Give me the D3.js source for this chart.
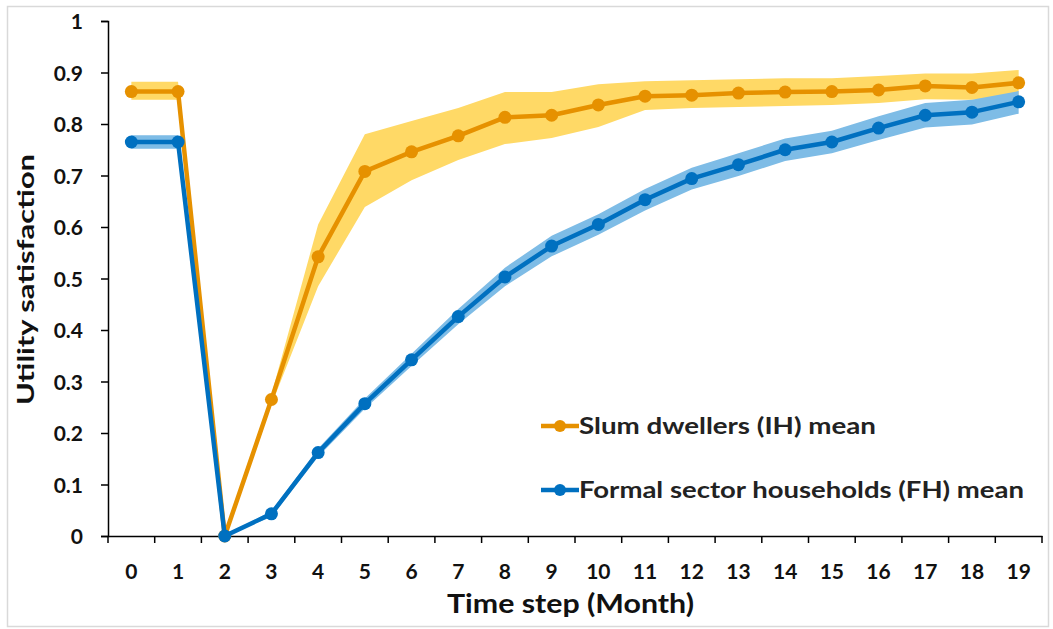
<!DOCTYPE html>
<html><head><meta charset="utf-8">
<script src="https://cdn.jsdelivr.net/npm/d3@7"></script>
<style>body{margin:0;background:#fff}svg{display:block}</style>
</head><body>
<svg id="chart" width="1053" height="629"></svg>
<script>
const months = [0,1,2,3,4,5,6,7,8,9,10,11,12,13,14,15,16,17,18,19];
const slumMean  = [0.863,0.863,0.0,0.265,0.542,0.708,0.746,0.777,0.813,0.817,0.837,0.854,0.856,0.860,0.862,0.863,0.866,0.874,0.871,0.880];
const slumUpper = [0.882,0.882,0.0,0.275,0.605,0.780,0.806,0.831,0.862,0.862,0.877,0.883,0.885,0.887,0.889,0.889,0.893,0.898,0.898,0.905];
const slumLower = [0.847,0.847,0.0,0.255,0.485,0.639,0.691,0.730,0.761,0.773,0.794,0.827,0.831,0.833,0.835,0.837,0.841,0.848,0.847,0.856];
const formalMean  = [0.765,0.765,0.0,0.043,0.162,0.257,0.342,0.426,0.503,0.563,0.605,0.653,0.694,0.721,0.750,0.765,0.792,0.817,0.823,0.843];
const formalUpper = [0.778,0.778,0.0,0.049,0.170,0.267,0.354,0.441,0.521,0.583,0.625,0.674,0.715,0.743,0.772,0.787,0.815,0.841,0.847,0.864];
const formalLower = [0.752,0.752,0.0,0.037,0.154,0.247,0.330,0.411,0.485,0.543,0.585,0.632,0.673,0.699,0.728,0.743,0.769,0.793,0.799,0.820];
const yTicks = [0,0.1,0.2,0.3,0.4,0.5,0.6,0.7,0.8,0.9,1];
const yTickLabels = ["0","0.1","0.2","0.3","0.4","0.5","0.6","0.7","0.8","0.9","1"];
const seriesNames = ["Slum dwellers (IH) mean","Formal sector households (FH) mean"];

(function(){
const svg = d3.select("#chart");
const FONT = "Lato, 'Open Sans', sans-serif";
const pLeft = 108, pRight = 1042, pTop = 21, pBottom = 536;

svg.append("rect").attr("x",7.5).attr("y",6.5).attr("width",1041).attr("height",620)
  .attr("fill","#fff").attr("stroke","#d9d9d9").attr("stroke-width",1.5);

const x = d3.scaleBand().domain(months).range([pLeft,pRight]);
const y = d3.scaleLinear().domain([0,1]).range([pBottom,pTop]);
const cx = d => x(d) + x.bandwidth()/2;

// y axis
const yAxis = svg.append("g").attr("transform",`translate(${pLeft},0)`)
  .call(d3.axisLeft(y).tickValues(yTicks).tickFormat((d,i)=>yTickLabels[i]).tickSizeOuter(0).tickSize(7));
yAxis.select(".domain").attr("stroke","#000").attr("stroke-width",1.5);
yAxis.selectAll(".tick line").attr("stroke","#000").attr("stroke-width",1.5);
yAxis.selectAll("text").attr("font-family",FONT).attr("font-weight","bold").attr("font-size",21).attr("fill","#111").attr("x",-25).attr("dy","0.36em");

// x axis
const xAxis = svg.append("g").attr("transform",`translate(0,${pBottom})`)
  .call(d3.axisBottom(x).tickSize(0).tickSizeOuter(0));
xAxis.select(".domain").attr("stroke","#000").attr("stroke-width",1.5);
xAxis.selectAll("text").attr("font-family",FONT).attr("font-weight","bold").attr("font-size",21).attr("fill","#111").attr("y",43).attr("dy",0);
const bounds = months.map(m => x(m)).concat([pRight]);
xAxis.selectAll("line.bnd").data(bounds).enter().append("line").attr("class","bnd")
  .attr("x1",d=>d).attr("x2",d=>d).attr("y1",0).attr("y2",7).attr("stroke","#000").attr("stroke-width",1.5);

// titles
svg.append("text").attr("x",447).attr("y",613)
  .attr("font-family",FONT).attr("font-weight","bold").attr("font-size",27).attr("fill","#111")
  .attr("textLength",247).attr("lengthAdjust","spacingAndGlyphs").text("Time step (Month)");
svg.append("text").attr("transform","translate(34,405) rotate(-90)")
  .attr("font-family",FONT).attr("font-weight","bold").attr("font-size",23).attr("fill","#111")
  .attr("textLength",251).attr("lengthAdjust","spacingAndGlyphs").text("Utility satisfaction");

const series = [
  {mean: slumMean, up: slumUpper, lo: slumLower, line:"#E69100", band:"#FFD966"},
  {mean: formalMean, up: formalUpper, lo: formalLower, line:"#0070C0", band:"#7EBCE6"}
];
const area = s => d3.area().x((d,i)=>cx(months[i])).y0((d,i)=>y(s.lo[i])).y1((d,i)=>y(s.up[i]));
const line = d3.line().x((d,i)=>cx(months[i])).y(d=>y(d));

series.forEach(s=>{
  svg.append("path").datum(s.mean).attr("d",area(s)).attr("fill",s.band);
});
series.forEach(s=>{
  svg.append("path").datum(s.mean).attr("d",line).attr("fill","none").attr("stroke",s.line).attr("stroke-width",4.5).attr("stroke-linejoin","round");
  svg.append("g").selectAll("circle").data(s.mean).enter().append("circle")
    .attr("cx",(d,i)=>cx(months[i])).attr("cy",d=>y(d)).attr("r",6.5).attr("fill",s.line);
});

// legend
const legY = [426,490];
const legW = [297,445];
series.forEach((s,i)=>{
  const g = svg.append("g");
  g.append("line").attr("x1",541).attr("x2",579).attr("y1",legY[i]).attr("y2",legY[i]).attr("stroke",s.line).attr("stroke-width",4.5);
  g.append("circle").attr("cx",560).attr("cy",legY[i]).attr("r",6).attr("fill",s.line);
  g.append("text").attr("x",579).attr("y",legY[i]+8).attr("font-family",FONT).attr("font-weight","bold")
    .attr("font-size",23).attr("fill","#222").attr("textLength",legW[i]).attr("lengthAdjust","spacingAndGlyphs").text(seriesNames[i]);
});
})();
</script>
</body></html>
